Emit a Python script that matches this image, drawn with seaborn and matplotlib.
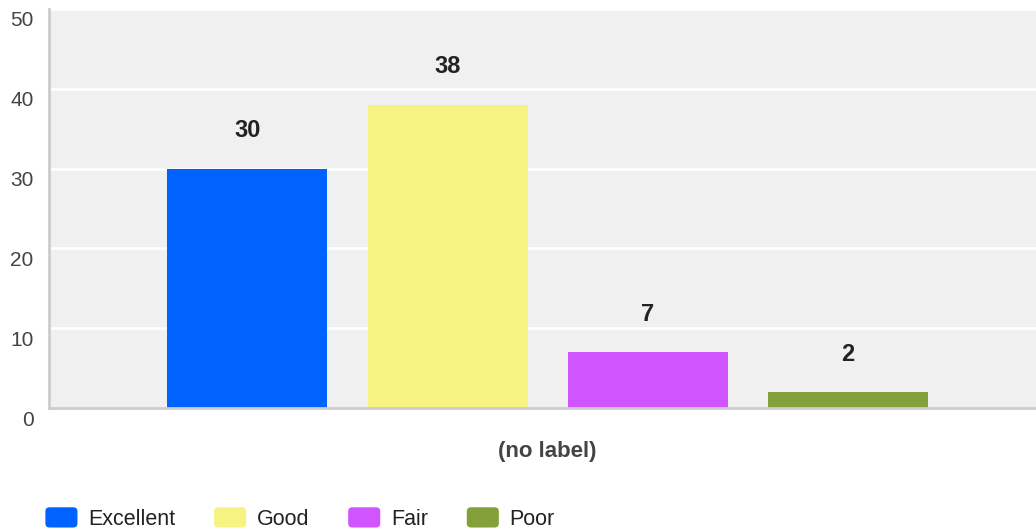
import matplotlib
matplotlib.use("Agg")
import matplotlib.pyplot as plt
import seaborn as sns
import pandas as pd
from matplotlib.patches import Patch, FancyBboxPatch
from matplotlib.legend_handler import HandlerPatch
from matplotlib.transforms import ScaledTranslation

ratings = ["Excellent", "Good", "Fair", "Poor"]
counts = [30, 38, 7, 2]
group = ["(no label)"] * 4
colors = ["#0062ff", "#f7f382", "#d155ff", "#83a03b"]
yticks = [0, 10, 20, 30, 40, 50]

df = pd.DataFrame({"group": group, "rating": ratings, "count": counts})

sns.set_theme(style="white")
plt.rcParams["font.family"] = ["Liberation Sans", "DejaVu Sans"]

fig = plt.figure(figsize=(10.36, 5.31), dpi=100)
W, H = 1036, 531
ax = fig.add_axes([49 / W, (H - 408) / H, (1036 - 49) / W, (408 - 9) / H])
ax.set_facecolor("#f0f0f0")

sns.barplot(data=df, x="group", y="count", hue="rating", hue_order=ratings,
            palette=colors, width=0.8, gap=0.2, ax=ax, legend=False,
            saturation=1, edgecolor="none", linewidth=0)

ax.set_ylim(0, 50)
ax.set_xlim(-0.4985, 0.4885)
ax.set_yticks(yticks)
ax.grid(axis="y", color="white", linewidth=1.8)
ax.set_axisbelow(True)
ax.set_xlabel("")
ax.set_ylabel("")

for s in ["top", "right"]:
    ax.spines[s].set_visible(False)
for s in ["left", "bottom"]:
    ax.spines[s].set_color("#cccccc")
    ax.spines[s].set_linewidth(2)

ax.tick_params(axis="y", length=0, pad=11, labelsize=15, labelcolor="#444444")
ax.tick_params(axis="x", length=0, pad=24, labelsize=16, labelcolor="#444444")
for lab in ax.get_xticklabels():
    lab.set_fontweight("bold")
off = ScaledTranslation(0, -10 / 100, fig.dpi_scale_trans)
for lab in ax.get_yticklabels():
    lab.set_transform(lab.get_transform() + off)

for cont in ax.containers:
    ax.bar_label(cont, padding=19, fontsize=17, fontweight="bold", color="#222222")


class RoundHandler(HandlerPatch):
    def create_artists(self, legend, orig_handle, xdescent, ydescent, width,
                       height, fontsize, trans):
        p = FancyBboxPatch((-xdescent, -ydescent), width, height,
                           boxstyle="round,pad=0,rounding_size=3",
                           facecolor=orig_handle.get_facecolor(),
                           edgecolor="none", transform=trans)
        return [p]


handles = [Patch(facecolor=c, label=r) for c, r in zip(colors, ratings)]
fig.legend(handles=handles, loc="center left", bbox_to_anchor=(26 / W, (H - 518.5) / H),
           ncol=4, frameon=False, fontsize=15.5, handlelength=1.49, handleheight=1.07,
           handletextpad=0.5, columnspacing=1.8, labelcolor="#222222",
           handler_map={Patch: RoundHandler()})

fig.savefig("out.png", dpi=100, facecolor="white")
